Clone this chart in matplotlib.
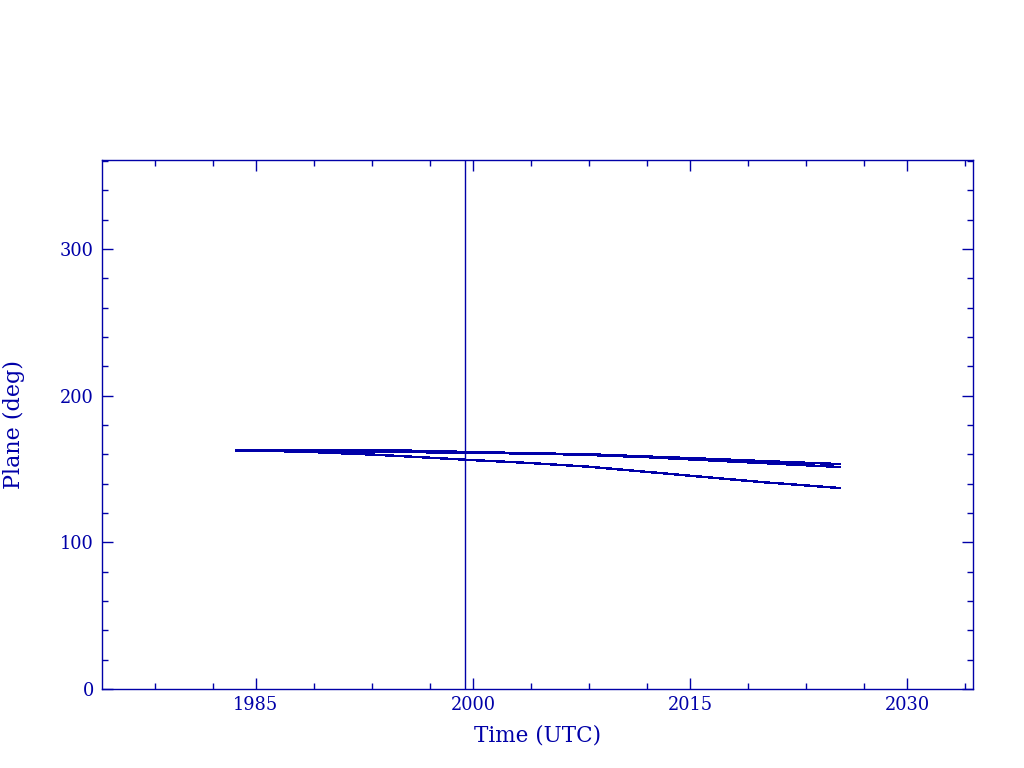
import matplotlib
matplotlib.use("Agg")
import matplotlib.pyplot as plt
import numpy as np

# =========================================================
# DATA
# =========================================================

blue = "#0000a8"

years_a = [1983.6, 1988.0, 1990.0, 1993.0, 1996.0, 2000.0, 2004.0, 2008.0, 2012.0, 2016.0, 2020.0, 2025.35]
plane_a = [162.5, 162.0, 161.0, 159.8, 158.2, 156.0, 154.0, 151.5, 148.0, 144.5, 141.0, 137.0]

years_b = [1983.6, 1987.0, 1990.0, 1994.0, 2000.0, 2005.0, 2008.0, 2012.0, 2016.0, 2020.0, 2025.35]
plane_b = [162.5, 162.6, 163.0, 162.8, 161.5, 160.5, 160.0, 158.5, 157.0, 155.4, 153.3]

years_c = [1983.6, 1987.0, 1990.0, 1995.0, 2000.0, 2005.0, 2008.0, 2012.0, 2016.0, 2020.0, 2025.35]
plane_c = [162.5, 162.0, 162.0, 161.5, 161.0, 160.3, 159.5, 158.0, 156.0, 154.0, 151.3]

marker_year = 1999.45

xmajor = [1985, 2000, 2015, 2030]
xminor = [1978, 1982, 1989, 1993, 1997, 2004, 2008, 2012, 2019, 2023, 2027, 2034]
ymajor = [0, 100, 200, 300]
yminor = [v for v in range(0, 361, 20) if v % 100 != 0]

# =========================================================
# FIGURE
# =========================================================

plt.rcParams["font.family"] = "DejaVu Serif"

fig = plt.figure(figsize=(10.24, 7.68), dpi=100)
ax = fig.add_axes([0.0996, 0.1029, 0.8506, 0.6888])

for xs, ys in [(years_a, plane_a), (years_b, plane_b), (years_c, plane_c)]:
    ax.plot(xs, ys, color=blue, lw=1.0, antialiased=False)

ax.axvline(marker_year, color=blue, lw=1.0)

ax.set_xlim(1974.36, 2034.55)
ax.set_ylim(0, 360.6)

ax.set_xticks(xmajor)
ax.set_xticks(xminor, minor=True)
ax.set_yticks(ymajor)
ax.set_yticks(yminor, minor=True)

ax.tick_params(which="both", direction="in", top=True, right=True,
               colors=blue, labelsize=12.8, width=1.0)
ax.tick_params(which="major", length=8)
ax.tick_params(axis="x", which="major", pad=5)
ax.tick_params(axis="y", which="major", pad=6)
ax.tick_params(which="minor", length=4)

for s in ax.spines.values():
    s.set_color(blue)
    s.set_linewidth(1.0)

ax.set_xlabel("Time (UTC)", color=blue, fontsize=15.5)
ax.set_ylabel("Plane (deg)", color=blue, fontsize=16)
ax.xaxis.set_label_coords(0.5, -0.068)
ax.yaxis.set_label_coords(-0.088, 0.5)

fig.savefig("out.png", dpi=100, facecolor="white")
